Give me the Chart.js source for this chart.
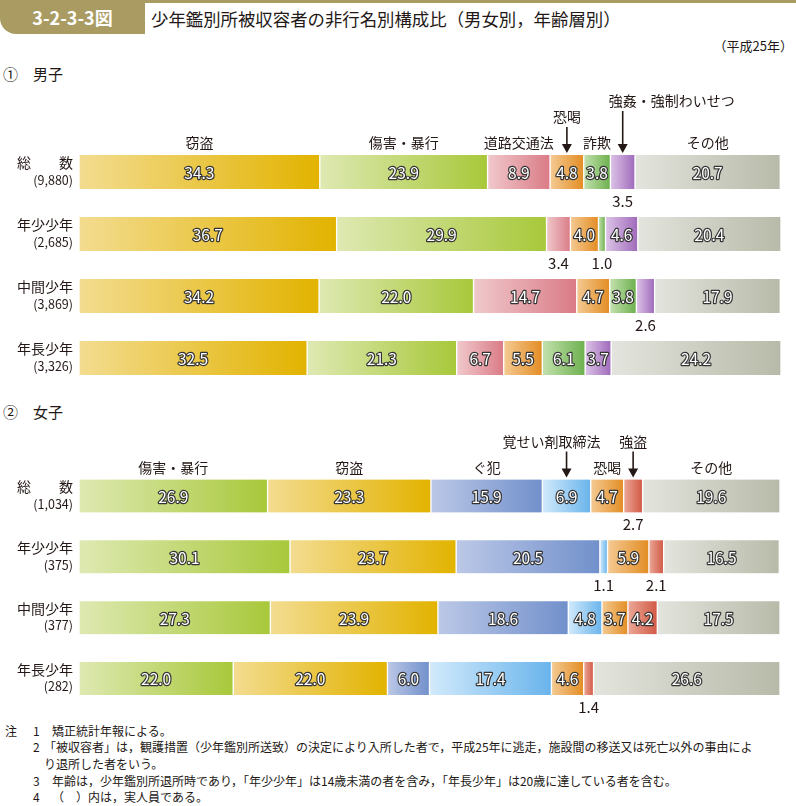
<!DOCTYPE html>
<html lang="ja">
<head>
<meta charset="utf-8">
<script src="https://cdn.jsdelivr.net/npm/chart.js@4.4.1/dist/chart.umd.min.js"></script>
<style>
  html, body { margin: 0; padding: 0; background: #fff; }
  body { width: 796px; height: 806px; position: relative; overflow: hidden;
         font-family: "Noto Sans CJK JP", "Noto Sans", sans-serif; color: #231815; }
  .abs { position: absolute; white-space: nowrap; }
  #tab { left: 0; top: 0; width: 145px; height: 34px; background: #a99b62; border-bottom-left-radius: 16px; }
  #tabtext { left: 0; top: 5px; width: 145px; text-align: center; color: #fff; font-weight: bold; font-size: 18px; line-height: 24px; }
  #topline { left: 145px; top: 0; width: 651px; height: 3px; background: #a99b62; }
  #title { left: 151px; top: 6px; font-size: 17.4px; line-height: 26px; }
  #year { right: 3px; top: 37px; font-size: 13px; line-height: 18px; }
  .sec { left: 3px; font-size: 15px; line-height: 22px; }
  .sec span { display: inline-block; width: 30px; }
  .note { font-size: 12px; line-height: 16px; }
  #wrapM { left: 0; top: 90px; width: 796px; height: 310px; }
  #wrapF { left: 0; top: 420px; width: 796px; height: 300px; }
</style>
</head>
<body>
<div id="tab" class="abs"></div>
<div id="tabtext" class="abs">3-2-3-3図</div>
<div id="topline" class="abs"></div>
<div id="title" class="abs">少年鑑別所被収容者の非行名別構成比（男女別，年齢層別）</div>
<div id="year" class="abs">（平成25年）</div>
<div class="abs sec" style="top:63px"><span>①</span>男子</div>
<div class="abs sec" style="top:401px"><span>②</span>女子</div>

<div id="wrapM" class="abs"><canvas id="chartM" width="796" height="310"></canvas></div>
<div id="wrapF" class="abs"><canvas id="chartF" width="796" height="300"></canvas></div>

<div class="abs note" style="left:5px;top:723px">注</div>
<div class="abs note" style="left:33px;top:723px">1</div>
<div class="abs note" style="left:52px;top:723px">矯正統計年報による。</div>
<div class="abs note" style="left:33px;top:739px">2</div>
<div class="abs note" style="left:44px;top:739px">「被収容者」は，観護措置（少年鑑別所送致）の決定により入所した者で，平成25年に逃走，施設間の移送又は死亡以外の事由によ</div>
<div class="abs note" style="left:44px;top:756px">り退所した者をいう。</div>
<div class="abs note" style="left:33px;top:773px">3</div>
<div class="abs note" style="left:52px;top:773px">年齢は，少年鑑別所退所時であり，「年少少年」は14歳未満の者を含み，「年長少年」は20歳に達している者を含む。</div>
<div class="abs note" style="left:33px;top:789px">4</div>
<div class="abs note" style="left:52px;top:789px">（　）内は，実人員である。</div>

<script>
// ---------------- DATA ----------------
const rowNames = ['総　　数', '年少少年', '中間少年', '年長少年'];
const maleCounts = ['(9,880)', '(2,685)', '(3,869)', '(3,326)'];
const femaleCounts = ['(1,034)', '(375)', '(377)', '(282)'];

const maleOffenses = ['窃盗', '傷害・暴行', '道路交通法', '恐喝', '詐欺', '強姦・強制わいせつ', 'その他'];
const maleTheft     = [34.3, 36.7, 34.2, 32.5];
const maleAssault   = [23.9, 29.9, 22.0, 21.3];
const maleTraffic   = [8.9, 3.4, 14.7, 6.7];
const maleExtortion = [4.8, 4.0, 4.7, 5.5];
const maleFraud     = [3.8, 1.0, 3.8, 6.1];
const maleSexual    = [3.5, 4.6, 2.6, 3.7];
const maleOther     = [20.7, 20.4, 17.9, 24.2];

const femaleOffenses = ['傷害・暴行', '窃盗', 'ぐ犯', '覚せい剤取締法', '恐喝', '強盗', 'その他'];
const femaleAssault   = [26.9, 30.1, 27.3, 22.0];
const femaleTheft     = [23.3, 23.7, 23.9, 22.0];
const femaleGuhan     = [15.9, 20.5, 18.6, 6.0];
const femaleStim      = [6.9, 1.1, 4.8, 17.4];
const femaleExtortion = [4.7, 5.9, 3.7, 4.6];
const femaleRobbery   = [2.7, 2.1, 4.2, 1.4];
const femaleOther     = [19.6, 16.5, 17.5, 26.6];

// ---------------- STYLE ----------------
const GRAD = {
  '窃盗': ['#f3dc90', '#e2b300'],
  '傷害・暴行': ['#dee9b2', '#a8c83a'],
  '道路交通法': ['#f0c9cc', '#da7b86'],
  '恐喝': ['#f4ca93', '#e38d24'],
  '詐欺': ['#c3e1ae', '#6db04e'],
  '強姦・強制わいせつ': ['#ddc4e7', '#9f6abb'],
  'その他': ['#e3e4dd', '#b8baa9'],
  'ぐ犯': ['#bcc8e7', '#7190cb'],
  '覚せい剤取締法': ['#d2eafb', '#69b4ec'],
  '強盗': ['#eca897', '#d15845']
};
// labels raised with arrows: [lift above bar top, x offset of text]
const arrowM = { '恐喝': [38, 0], '強姦・強制わいせつ': [54, 49] };
const arrowF = { '覚せい剤取締法': [38, -15], '強盗': [38, 0] };
const FONT = '"Noto Sans CJK JP", "Noto Sans", sans-serif';
const INK = '#231815';

function gradFill(ctx) {
  const chart = ctx.chart;
  const ds = chart.data.datasets[ctx.datasetIndex];
  const cols = GRAD[ds.label];
  if (!chart.chartArea || ctx.type !== 'data') return cols[1];
  const xs = chart.scales.x;
  let start = 0;
  for (let d = 0; d < ctx.datasetIndex; d++) start += chart.data.datasets[d].data[ctx.dataIndex];
  const v = ds.data[ctx.dataIndex];
  const x0 = xs.getPixelForValue(start), x1 = xs.getPixelForValue(start + v);
  const g = chart.ctx.createLinearGradient(x0, 0, Math.max(x1, x0 + 1), 0);
  g.addColorStop(0, cols[0]);
  g.addColorStop(1, cols[1]);
  return g;
}

const labelPlugin = {
  id: 'labels',
  afterDatasetsDraw(chart) {
    const c = chart.ctx;
    const cfg = chart.options.plugins.labels;
    const ys = chart.scales.y;
    c.save();
    // row labels
    rowNames.forEach((name, i) => {
      const y = ys.getPixelForValue(i);
      c.fillStyle = INK;
      c.textAlign = 'right';
      c.textBaseline = 'middle';
      c.font = '14px ' + FONT;
      c.fillText(name, 73, y - 9);
      c.font = '12.5px ' + FONT;
      c.fillText(cfg.counts[i], 73, y + 8);
    });
    chart.data.datasets.forEach((ds, di) => {
      const meta = chart.getDatasetMeta(di);
      meta.data.forEach((bar, i) => {
        const p = bar.getProps(['x', 'y', 'base', 'height'], true);
        const cx = (p.x + p.base) / 2;
        const top = p.y - p.height / 2, bottom = p.y + p.height / 2;
        const v = ds.data[i];
        const txt = v.toFixed(1);
        c.textAlign = 'center';
        c.textBaseline = 'middle';
        if (v >= 3.6) {
          c.font = '15.5px ' + FONT;
          c.lineJoin = 'round';
          c.lineWidth = 2.4;
          c.strokeStyle = '#333333';
          c.strokeText(txt, cx, p.y + 1);
          c.fillStyle = '#ffffff';
          c.fillText(txt, cx, p.y + 1);
        } else {
          c.font = '15px ' + FONT;
          c.fillStyle = INK;
          c.fillText(txt, cx, bottom + 12);
        }
        if (i === 0) {
          c.font = '14px ' + FONT;
          c.fillStyle = INK;
          const a = cfg.arrows[ds.label];
          if (a) {
            c.fillText(ds.label, cx + a[1], top - a[0]);
            const y0 = top - a[0] + 10, y1 = top - 2;
            c.strokeStyle = INK;
            c.lineWidth = 1.6;
            c.beginPath();
            c.moveTo(cx, y0); c.lineTo(cx, y1 - 7); c.stroke();
            c.beginPath();
            c.moveTo(cx - 5, y1 - 9); c.lineTo(cx + 5, y1 - 9); c.lineTo(cx, y1); c.closePath();
            c.fill();
          } else {
            c.fillText(ds.label, cx, top - 12);
          }
        }
      });
    });
    c.restore();
  }
};

function makeChart(id, names, series, counts, arrows, pad, thickness) {
  return new Chart(document.getElementById(id), {
    type: 'bar',
    data: {
      labels: rowNames,
      datasets: names.map((n, k) => ({
        label: n,
        data: series[k],
        backgroundColor: gradFill,
        borderColor: '#ffffff',
        borderWidth: { left: 1, right: 1, top: 0, bottom: 0 },
        borderSkipped: false,
        barThickness: thickness
      }))
    },
    options: {
      indexAxis: 'y',
      responsive: false,
      animation: false,
      events: [],
      layout: { padding: pad },
      scales: {
        x: { stacked: true, min: 0, max: 100, display: false },
        y: { stacked: true, display: false }
      },
      plugins: {
        legend: { display: false },
        tooltip: { enabled: false },
        labels: { counts: counts, arrows: arrows }
      }
    },
    plugins: [labelPlugin]
  });
}

makeChart('chartM', maleOffenses,
  [maleTheft, maleAssault, maleTraffic, maleExtortion, maleFraud, maleSexual, maleOther],
  maleCounts, arrowM, { left: 79, right: 15, top: 51, bottom: 11 }, 34);
makeChart('chartF', femaleOffenses,
  [femaleAssault, femaleTheft, femaleGuhan, femaleStim, femaleExtortion, femaleRobbery, femaleOther],
  femaleCounts, arrowF, { left: 79, right: 16, top: 45.6, bottom: 11.1 }, 33);
</script>
</body>
</html>
